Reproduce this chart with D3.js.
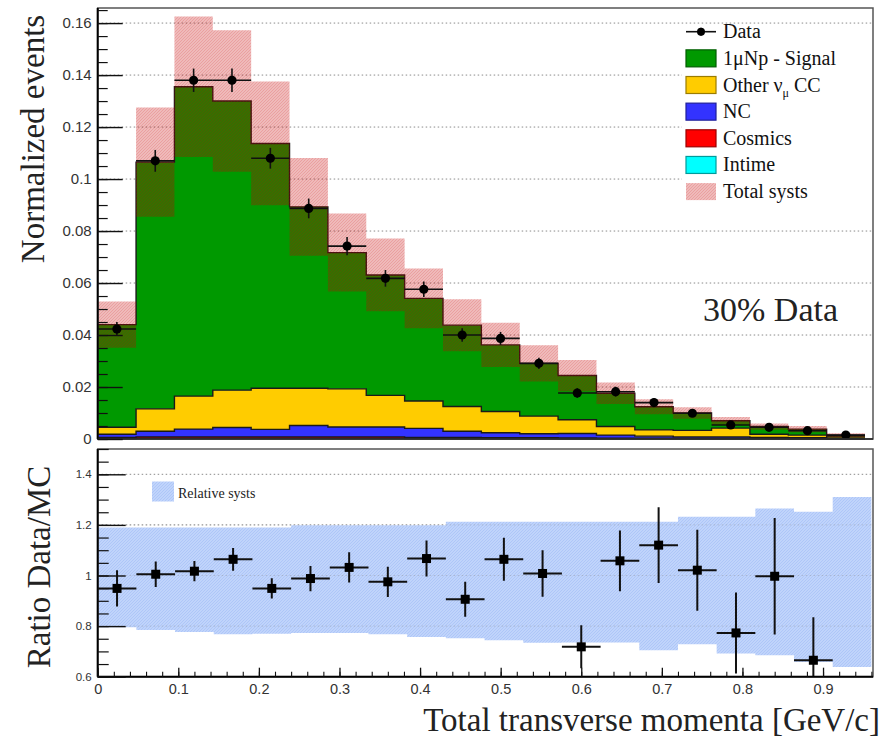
<!DOCTYPE html>
<html>
<head>
<meta charset="utf-8">
<script src="https://cdn.jsdelivr.net/npm/d3@7"></script>
<style>
  body { margin: 0; background: #fff; }
  svg { display: block; }
</style>
</head>
<body>
<div id="chart"></div>
<script>
// ---- data ----
const binEdges = [0, 0.048, 0.096, 0.144, 0.192, 0.24, 0.288, 0.336, 0.384, 0.432, 0.48,
                  0.528, 0.576, 0.624, 0.672, 0.72, 0.768, 0.816, 0.864, 0.912, 0.96];

// stacked MC components (per layer, bottom to top)
const intime  = [0.0002, 0.0003, 0.0003, 0.0003, 0.0003, 0.0003, 0.0003, 0.0003, 0.0002, 0.0002,
                 0.0002, 0.0002, 0.0001, 0.0001, 0.0001, 0.0001, 0.0001, 0.0001, 0.0001, 0.0000];
const cosmics = [0.0004, 0.0005, 0.0005, 0.0005, 0.0005, 0.0005, 0.0005, 0.0005, 0.0004, 0.0004,
                 0.0003, 0.0003, 0.0003, 0.0002, 0.0002, 0.0002, 0.0002, 0.0002, 0.0001, 0.0001];
const nc      = [0.0012, 0.0022, 0.0030, 0.0036, 0.0029, 0.0044, 0.0038, 0.0038, 0.0035, 0.0024,
                 0.0019, 0.0015, 0.0017, 0.0012, 0.0008, 0.0005, 0.0005, 0.0003, 0.0003, 0.0002];
const otherCC = [0.0027, 0.0086, 0.0127, 0.0144, 0.0158, 0.0143, 0.0147, 0.0122, 0.0105, 0.0095,
                 0.0082, 0.0068, 0.0053, 0.0033, 0.0024, 0.0025, 0.0034, 0.0012, 0.0010, 0.0005];
const signal  = [0.0395, 0.0949, 0.1190, 0.1112, 0.0942, 0.0698, 0.0524, 0.0463, 0.0395, 0.0313,
                 0.0256, 0.0203, 0.0170, 0.0128, 0.0089, 0.0067, 0.0028, 0.0030, 0.0023, 0.0007];
const totalSyst = [0.0089, 0.0210, 0.0270, 0.0272, 0.0238, 0.0188, 0.0150, 0.0140, 0.0115, 0.0100,
                   0.0085, 0.0070, 0.0060, 0.0041, 0.0029, 0.0022, 0.0015, 0.0012, 0.0012, 0.0007];

const dataVals = [0.0423, 0.1070, 0.1380, 0.1380, 0.1080, 0.0887, 0.0742, 0.0618, 0.0576, 0.0400,
                  0.0387, 0.0291, 0.0177, 0.0182, 0.0140, 0.0099, 0.0054, 0.0045, 0.0032, 0.0015];
const dataErr  = [0.0027, 0.0042, 0.0045, 0.0045, 0.0040, 0.0038, 0.0035, 0.0032, 0.0030, 0.0026,
                  0.0025, 0.0022, 0.0019, 0.0019, 0.0017, 0.0014, 0.0011, 0.0010, 0.0009, 0.0005];

// ratio panel
const ratioVals = [0.949, 1.005, 1.017, 1.064, 0.949, 0.988, 1.032, 0.975, 1.067, 0.906,
                   1.064, 1.008, 0.718, 1.058, 1.120, 1.021, 0.773, 0.997, 0.665, null];
const ratioErr  = [0.072, 0.050, 0.040, 0.045, 0.040, 0.050, 0.060, 0.060, 0.071, 0.069,
                   0.085, 0.092, 0.085, 0.120, 0.150, 0.160, 0.160, 0.230, 0.170, null];
const ratioSystHi = [1.190, 1.190, 1.190, 1.190, 1.190, 1.199, 1.199, 1.199, 1.199, 1.212,
                     1.212, 1.212, 1.212, 1.212, 1.212, 1.232, 1.232, 1.265, 1.252, 1.310];
const ratioSystLo = [0.795, 0.785, 0.777, 0.768, 0.770, 0.773, 0.773, 0.768, 0.757, 0.752,
                     0.744, 0.734, 0.735, 0.735, 0.705, 0.728, 0.692, 0.685, 0.658, 0.638];

const yTopTicks = [0, 0.02, 0.04, 0.06, 0.08, 0.1, 0.12, 0.14, 0.16];
const ratioTicks = [0.6, 0.8, 1, 1.2, 1.4];
const xTicks = [0, 0.1, 0.2, 0.3, 0.4, 0.5, 0.6, 0.7, 0.8, 0.9];

const layerKeys = ['intime', 'cosmics', 'nc', 'otherCC', 'signal'];
const layerColors = {intime: '#00ffff', cosmics: '#ff0000', nc: '#3333ff', otherCC: '#ffcc00', signal: '#009900'};
const legendItems = [
    {key: 'data', label: 'Data'},
    {key: 'signal', label: '1μNp - Signal'},
    {key: 'otherCC', label: 'Other'},
    {key: 'nc', label: 'NC'},
    {key: 'cosmics', label: 'Cosmics'},
    {key: 'intime', label: 'Intime'},
    {key: 'syst', label: 'Total systs'}
];

// ---- layout ----
const W = 886, H = 739;
const mainBox = {left: 97.7, right: 873, top: 8, bottom: 439};
const ratioBox = {left: 97.7, right: 873, top: 449, bottom: 676.7};

const xTop = d3.scaleLinear().domain([0, 0.97]).range([mainBox.left, mainBox.right]);
const yTop = d3.scaleLinear().domain([0, 0.1658]).range([mainBox.bottom, mainBox.top]);
const xBot = d3.scaleLinear().domain([0, 0.962]).range([ratioBox.left, ratioBox.right]);
const yBot = d3.scaleLinear().domain([0.6, 1.5]).range([ratioBox.bottom, ratioBox.top]);

const fmt = d => String(+d.toFixed(2));
const serif = '"Liberation Serif", "Times New Roman", serif';
const sans = '"Liberation Sans", Arial, sans-serif';

const svg = d3.select('#chart').append('svg')
    .attr('width', W)
    .attr('height', H);

const defs = svg.append('defs');

// fine hatches on a tinted base, so they read as a soft fill when scaled down
const systPat = defs.append('pattern')
    .attr('id', 'systHatch')
    .attr('patternUnits', 'userSpaceOnUse')
    .attr('width', 3).attr('height', 3);
systPat.append('rect')
    .attr('width', 3).attr('height', 3)
    .attr('fill', '#c40000')
    .attr('fill-opacity', 0.27);
systPat.append('path')
    .attr('d', 'M-1,1 l2,-2 M0,3 l3,-3 M2,4 l2,-2')
    .attr('stroke', '#c40000')
    .attr('stroke-width', 0.8)
    .attr('stroke-opacity', 0.18);

const relPat = defs.append('pattern')
    .attr('id', 'relHatch')
    .attr('patternUnits', 'userSpaceOnUse')
    .attr('width', 3).attr('height', 3);
relPat.append('rect').attr('width', 3).attr('height', 3).attr('fill', '#c0d4fb');
relPat.append('path')
    .attr('d', 'M-1,1 l2,-2 M0,3 l3,-3 M2,4 l2,-2')
    .attr('stroke', '#aac3f7')
    .attr('stroke-width', 0.8);

defs.append('clipPath').attr('id', 'ratioClip')
    .append('rect')
    .attr('x', ratioBox.left).attr('y', ratioBox.top)
    .attr('width', ratioBox.right - ratioBox.left)
    .attr('height', ratioBox.bottom - ratioBox.top);

// step helpers: one point per bin plus a closing point at the last edge
function stepPoints(lo, hi) {
    const pts = binEdges.slice(0, -1).map((e, i) => ({x: e, lo: lo[i], hi: hi[i]}));
    const n = pts.length;
    pts.push({x: binEdges[n], lo: lo[n - 1], hi: hi[n - 1]});
    return pts;
}

function gridLines(g, values, xs, ys) {
    g.selectAll('line.grid')
        .data(values)
        .enter().append('line')
        .attr('class', 'grid')
        .attr('x1', xs.range()[0])
        .attr('x2', xs.range()[1])
        .attr('y1', d => ys(d))
        .attr('y2', d => ys(d))
        .attr('stroke', '#8a8a8a')
        .attr('stroke-width', 1)
        .attr('stroke-dasharray', '1.5,2.5');
}

function leftAxis(g, ys, majors, minors, majorLen, minorLen, fontSize) {
    const ax = g.append('g')
        .attr('transform', `translate(${mainBox.left},0)`)
        .call(d3.axisLeft(ys).tickValues(majors).tickSize(-majorLen).tickPadding(6).tickFormat(fmt));
    ax.select('.domain').remove();
    ax.selectAll('line').attr('stroke', '#111').attr('stroke-width', 1.4);
    ax.selectAll('text')
        .attr('font-family', sans)
        .attr('font-size', fontSize)
        .attr('fill', '#333');
    const mn = g.append('g')
        .attr('transform', `translate(${mainBox.left},0)`)
        .call(d3.axisLeft(ys).tickValues(minors).tickSize(-minorLen).tickFormat(''));
    mn.select('.domain').remove();
    mn.selectAll('line').attr('stroke', '#111').attr('stroke-width', 1.2);
}

// ================= main panel =================
const gMain = svg.append('g');

gridLines(gMain, yTopTicks.filter(d => d > 0), xTop, yTop);

// legend background hides the grid behind the legend
gMain.append('rect')
    .attr('x', 682).attr('y', 25)
    .attr('width', mainBox.right - 682 - 1)
    .attr('height', 190)
    .attr('fill', '#fff');

const rows = binEdges.slice(0, -1).map((e, i) => ({
    intime: intime[i], cosmics: cosmics[i], nc: nc[i], otherCC: otherCC[i], signal: signal[i]
}));
const stacked = d3.stack().keys(layerKeys)(rows);

const area = d3.area()
    .x(d => xTop(d.x))
    .y0(d => yTop(d.lo))
    .y1(d => yTop(d.hi))
    .curve(d3.curveStepAfter);

const line = d3.line()
    .x(d => xTop(d.x))
    .y(d => yTop(d.hi))
    .curve(d3.curveStepAfter);

stacked.forEach(s => {
    const pts = stepPoints(s.map(d => d[0]), s.map(d => d[1]));
    gMain.append('path')
        .attr('d', area(pts))
        .attr('fill', layerColors[s.key]);
});
stacked.forEach(s => {
    const pts = stepPoints(s.map(d => d[0]), s.map(d => d[1]));
    gMain.append('path')
        .attr('d', line(pts))
        .attr('fill', 'none')
        .attr('stroke', '#1a1a1a')
        .attr('stroke-width', 1.4);
});

// total systematic band around the MC sum
const totalMC = stacked[stacked.length - 1].map(d => d[1]);
const bandPts = stepPoints(totalMC.map((t, i) => t - totalSyst[i]), totalMC.map((t, i) => t + totalSyst[i]));
gMain.append('path')
    .attr('d', area(bandPts))
    .attr('fill', 'url(#systHatch)');

// data points
const dataG = gMain.append('g');
dataVals.forEach((v, i) => {
    const cx = xTop((binEdges[i] + binEdges[i + 1]) / 2);
    dataG.append('line')
        .attr('x1', xTop(binEdges[i])).attr('x2', xTop(binEdges[i + 1]))
        .attr('y1', yTop(v)).attr('y2', yTop(v))
        .attr('stroke', '#111').attr('stroke-width', 1.6);
    dataG.append('line')
        .attr('x1', cx).attr('x2', cx)
        .attr('y1', yTop(v - dataErr[i])).attr('y2', yTop(v + dataErr[i]))
        .attr('stroke', '#111').attr('stroke-width', 1.6);
    dataG.append('circle')
        .attr('cx', cx).attr('cy', yTop(v))
        .attr('r', 4.6)
        .attr('fill', '#000');
});

// frame + axes
gMain.append('rect')
    .attr('x', mainBox.left).attr('y', mainBox.top)
    .attr('width', mainBox.right - mainBox.left)
    .attr('height', mainBox.bottom - mainBox.top)
    .attr('fill', 'none')
    .attr('stroke', '#555')
    .attr('stroke-width', 1.5);
gMain.append('line')
    .attr('x1', mainBox.left).attr('x2', mainBox.left)
    .attr('y1', mainBox.top).attr('y2', mainBox.bottom)
    .attr('stroke', '#000').attr('stroke-width', 2);
gMain.append('line')
    .attr('x1', mainBox.left).attr('x2', mainBox.right)
    .attr('y1', mainBox.bottom).attr('y2', mainBox.bottom)
    .attr('stroke', '#222').attr('stroke-width', 1.6);

leftAxis(gMain, yTop, yTopTicks, d3.range(0, 0.1651, 0.005), 25, 10, 15);

// legend
const legG = gMain.append('g');
legendItems.forEach((item, i) => {
    const cy = 31.7 + i * 26.65;
    if (item.key === 'data') {
        legG.append('line')
            .attr('x1', 686).attr('x2', 716)
            .attr('y1', cy).attr('y2', cy)
            .attr('stroke', '#111').attr('stroke-width', 1.6);
        legG.append('line')
            .attr('x1', 701).attr('x2', 701)
            .attr('y1', cy - 4).attr('y2', cy + 4)
            .attr('stroke', '#111').attr('stroke-width', 1.4);
        legG.append('circle')
            .attr('cx', 701).attr('cy', cy).attr('r', 4)
            .attr('fill', '#000');
    } else if (item.key === 'syst') {
        legG.append('rect')
            .attr('x', 686).attr('y', cy - 8.5)
            .attr('width', 30).attr('height', 17)
            .attr('fill', 'url(#systHatch)');
    } else {
        const c = layerColors[item.key];
        legG.append('rect')
            .attr('x', 686).attr('y', cy - 8.5)
            .attr('width', 30).attr('height', 17)
            .attr('fill', c)
            .attr('stroke', d3.color(c).darker(1.4))
            .attr('stroke-width', 1.2);
    }
    const t = legG.append('text')
        .attr('x', 723).attr('y', cy + 6.5)
        .attr('font-family', serif)
        .attr('font-size', 20)
        .attr('fill', '#111');
    if (item.key === 'otherCC') {
        t.append('tspan').text('Other ν');
        t.append('tspan').attr('font-size', 12).attr('dy', 5).text('μ');
        t.append('tspan').attr('dy', -5).text(' CC');
    } else {
        t.text(item.label);
    }
});

gMain.append('text')
    .attr('x', 703).attr('y', 321)
    .attr('font-family', serif)
    .attr('font-size', 34)
    .attr('fill', '#222')
    .text('30% Data');

svg.append('text')
    .attr('transform', `translate(44,139) rotate(-90)`)
    .attr('text-anchor', 'middle')
    .attr('font-family', serif)
    .attr('font-size', 33)
    .attr('fill', '#222')
    .text('Normalized events');

// ================= ratio panel =================
const gRatio = svg.append('g');

gridLines(gRatio, [0.8, 1, 1.2, 1.4], xBot, yBot);

const areaBot = d3.area()
    .x(d => xBot(d.x))
    .y0(d => yBot(d.lo))
    .y1(d => yBot(d.hi))
    .curve(d3.curveStepAfter);

gRatio.append('path')
    .attr('d', areaBot(stepPoints(ratioSystLo, ratioSystHi)))
    .attr('fill', 'url(#relHatch)');

gridLines(gRatio.append('g').attr('opacity', 0.35), [0.8, 1, 1.2], xBot, yBot);

gRatio.append('rect')
    .attr('x', 152).attr('y', 481.5)
    .attr('width', 22).attr('height', 20)
    .attr('fill', 'url(#relHatch)');
gRatio.append('text')
    .attr('x', 178).attr('y', 498)
    .attr('font-family', serif)
    .attr('font-size', 14)
    .attr('fill', '#222')
    .text('Relative systs');

const ratioG = gRatio.append('g').attr('clip-path', 'url(#ratioClip)');
ratioVals.forEach((v, i) => {
    if (v === null) return;
    const cx = xBot((binEdges[i] + binEdges[i + 1]) / 2);
    ratioG.append('line')
        .attr('x1', xBot(binEdges[i])).attr('x2', xBot(binEdges[i + 1]))
        .attr('y1', yBot(v)).attr('y2', yBot(v))
        .attr('stroke', '#111').attr('stroke-width', 2);
    ratioG.append('line')
        .attr('x1', cx).attr('x2', cx)
        .attr('y1', yBot(v - ratioErr[i])).attr('y2', yBot(v + ratioErr[i]))
        .attr('stroke', '#111').attr('stroke-width', 2);
    ratioG.append('rect')
        .attr('x', cx - 4.5).attr('y', yBot(v) - 4.5)
        .attr('width', 9).attr('height', 9)
        .attr('fill', '#000');
});

gRatio.append('rect')
    .attr('x', ratioBox.left).attr('y', ratioBox.top)
    .attr('width', ratioBox.right - ratioBox.left)
    .attr('height', ratioBox.bottom - ratioBox.top)
    .attr('fill', 'none')
    .attr('stroke', '#555')
    .attr('stroke-width', 1.5);
gRatio.append('line')
    .attr('x1', ratioBox.left).attr('x2', ratioBox.left)
    .attr('y1', ratioBox.top).attr('y2', ratioBox.bottom)
    .attr('stroke', '#000').attr('stroke-width', 2);
gRatio.append('line')
    .attr('x1', ratioBox.left).attr('x2', ratioBox.right)
    .attr('y1', ratioBox.bottom).attr('y2', ratioBox.bottom)
    .attr('stroke', '#000').attr('stroke-width', 2);

leftAxis(gRatio, yBot, ratioTicks, d3.range(0.6, 1.5001, 0.05), 28, 11, 11.5);

// x axis
const xa = gRatio.append('g')
    .attr('transform', `translate(0,${ratioBox.bottom})`)
    .call(d3.axisBottom(xBot).tickValues(xTicks).tickSize(-9).tickPadding(7).tickFormat(fmt));
xa.select('.domain').remove();
xa.selectAll('line').attr('stroke', '#111').attr('stroke-width', 1.3);
xa.selectAll('text')
    .attr('font-family', sans)
    .attr('font-size', 14.5)
    .attr('fill', '#333');
const xm = gRatio.append('g')
    .attr('transform', `translate(0,${ratioBox.bottom})`)
    .call(d3.axisBottom(xBot).tickValues(d3.range(0, 0.961, 0.02)).tickSize(-5).tickFormat(''));
xm.select('.domain').remove();
xm.selectAll('line').attr('stroke', '#111').attr('stroke-width', 1.1);

svg.append('text')
    .attr('transform', `translate(50,567) rotate(-90)`)
    .attr('text-anchor', 'middle')
    .attr('font-family', serif)
    .attr('font-size', 33)
    .attr('fill', '#222')
    .text('Ratio Data/MC');

svg.append('text')
    .attr('x', 880).attr('y', 731)
    .attr('text-anchor', 'end')
    .attr('font-family', serif)
    .attr('font-size', 33)
    .attr('fill', '#222')
    .text('Total transverse momenta [GeV/c]');
</script>
</body>
</html>
